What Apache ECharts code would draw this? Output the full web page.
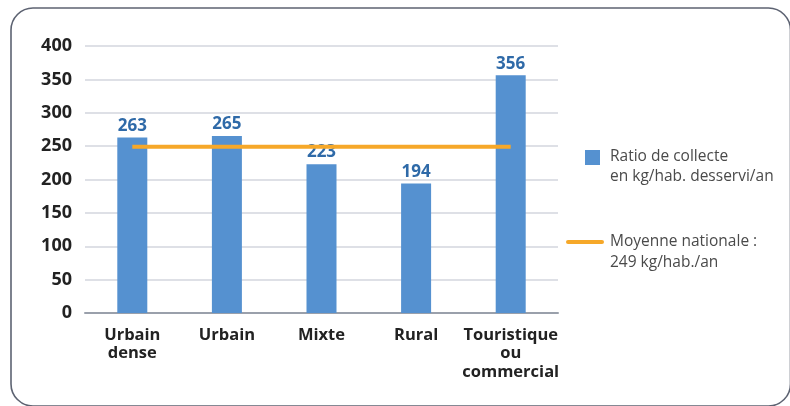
<!DOCTYPE html>
<html>
<head>
<meta charset="utf-8">
<script src="https://cdn.jsdelivr.net/npm/echarts@6/dist/echarts.min.js"></script>
<style>
html,body{margin:0;padding:0;background:#fff;}
#chart{width:790px;height:406px;}
</style>
</head>
<body>
<div id="chart"></div>
<script>
var categories = ['Urbain\ndense', 'Urbain', 'Mixte', 'Rural', 'Touristique\nou\ncommercial'];
var ratioValues = [263, 265, 223, 194, 356];
var nationalAverage = 249;
var averageValues = [249, 249, 249, 249, 249];
var yTicks = [0, 50, 100, 150, 200, 250, 300, 350, 400];
var legendRatio = ['Ratio de collecte', 'en kg/hab. desservi/an'];
var legendAverage = ['Moyenne nationale :', '249 kg/hab./an'];

var FONT = '"Open Sans", "Noto Sans", sans-serif';
var chart = echarts.init(document.getElementById('chart'), null, {renderer: 'canvas'});
var option = {
  animation: false,
  backgroundColor: '#ffffff',
  grid: {left: 85, right: 232, top: 46, bottom: 93},
  xAxis: {
    type: 'category',
    data: categories,
    boundaryGap: true,
    axisTick: {show: false},
    axisLine: {show: true, lineStyle: {color: '#9aa0ab', width: 2}},
    axisLabel: {
      interval: 0, margin: 13,
      fontFamily: FONT, fontSize: 16.5, fontWeight: 'bold', color: '#222222',
      lineHeight: 18.5
    }
  },
  yAxis: {
    type: 'value',
    min: yTicks[0], max: yTicks[yTicks.length - 1], interval: 50,
    axisLine: {show: false},
    axisTick: {show: false},
    splitLine: {lineStyle: {color: '#d3d6de', width: 1.5}},
    axisLabel: {
      margin: 13, fontFamily: FONT, fontSize: 18, fontWeight: 'bold', color: '#222222'
    }
  },
  series: [
    {
      name: legendRatio.join('\n'),
      type: 'bar',
      data: ratioValues,
      barWidth: 30,
      itemStyle: {color: '#5591d0'},
      label: {
        show: true, position: 'top', distance: 3,
        fontFamily: FONT, fontSize: 17, fontWeight: 'bold', color: '#2f6aa8'
      },
      z: 2
    },
    {
      name: legendAverage.join('\n'),
      type: 'line',
      data: averageValues,
      symbol: 'none',
      lineStyle: {color: '#f6a829', width: 4},
      z: 3
    }
  ],
  graphic: [
    {
      type: 'rect', silent: true,
      shape: {x: 11, y: 8, width: 779.5, height: 398, r: 22},
      style: {fill: 'none', stroke: '#5d6372', lineWidth: 1.6}
    },
    {
      type: 'rect',
      shape: {x: 585, y: 150, width: 15, height: 15},
      style: {fill: '#5591d0'}
    },
    {
      type: 'text', left: 610, top: 147,
      style: {
        text: legendRatio.join('\n'),
        font: '15.5px ' + FONT, fill: '#4a4a4a', lineHeight: 20
      }
    },
    {
      type: 'line',
      shape: {x1: 568, y1: 242, x2: 602, y2: 242},
      style: {stroke: '#f6a829', lineWidth: 4, lineCap: 'round'}
    },
    {
      type: 'text', left: 610, top: 231,
      style: {
        text: legendAverage.join('\n'),
        font: '15.5px ' + FONT, fill: '#4a4a4a', lineHeight: 21
      }
    }
  ]
};
chart.setOption(option);
</script>
</body>
</html>
